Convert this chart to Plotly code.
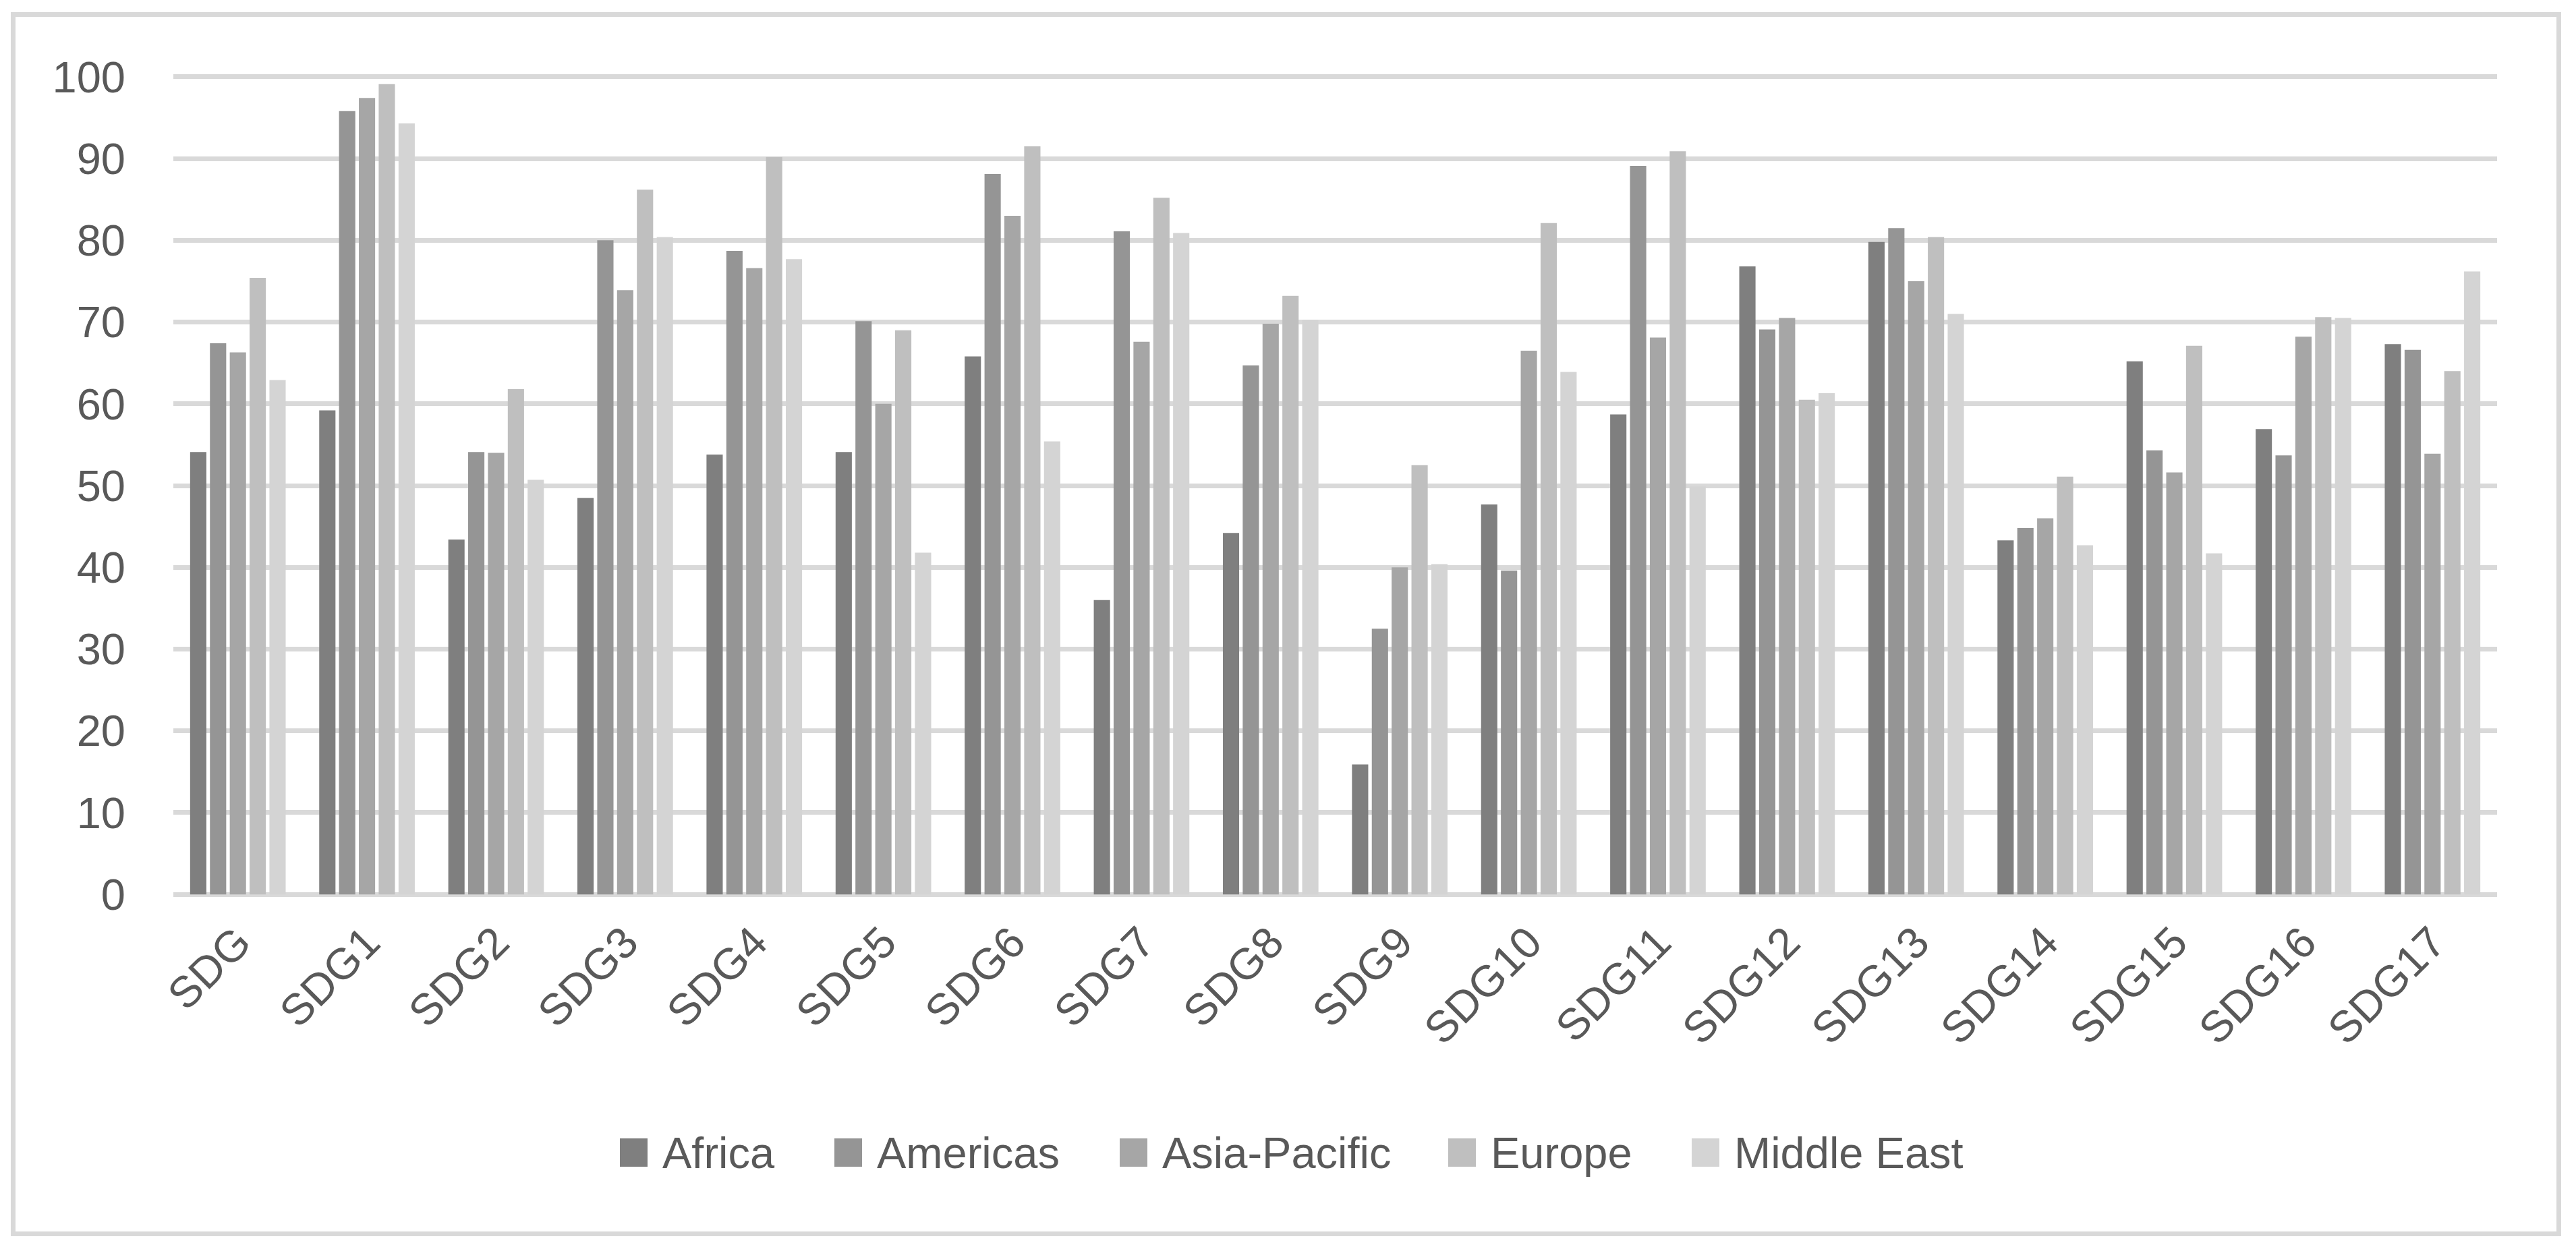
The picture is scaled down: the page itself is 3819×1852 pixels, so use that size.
import plotly.graph_objects as go

categories = ["SDG", "SDG1", "SDG2", "SDG3", "SDG4", "SDG5", "SDG6", "SDG7", "SDG8",
              "SDG9", "SDG10", "SDG11", "SDG12", "SDG13", "SDG14", "SDG15", "SDG16", "SDG17"]

africa = [54.1, 59.2, 43.4, 48.5, 53.8, 54.1, 65.8, 36.0, 44.2, 15.9, 47.7, 58.7, 76.8, 79.8, 43.3, 65.2, 56.9, 67.3]
americas = [67.4, 95.8, 54.1, 80.0, 78.7, 70.1, 88.1, 81.1, 64.7, 32.5, 39.6, 89.1, 69.1, 81.5, 44.8, 54.3, 53.7, 66.6]
asia_pacific = [66.3, 97.4, 54.0, 73.9, 76.6, 60.0, 83.0, 67.6, 69.8, 40.0, 66.5, 68.1, 70.5, 75.0, 46.0, 51.6, 68.2, 53.9]
europe = [75.4, 99.1, 61.8, 86.2, 90.2, 69.0, 91.5, 85.2, 73.2, 52.5, 82.1, 90.9, 60.5, 80.4, 51.1, 67.1, 70.6, 64.0]
middle_east = [62.9, 94.3, 50.7, 80.4, 77.7, 41.8, 55.4, 80.9, 70.3, 40.4, 63.9, 49.9, 61.3, 71.0, 42.7, 41.7, 70.5, 76.2]

series_names = ["Africa", "Americas", "Asia-Pacific", "Europe", "Middle East"]
series_values = [africa, americas, asia_pacific, europe, middle_east]
series_colors = ["#7f7f7f", "#959595", "#a6a6a6", "#bfbfbf", "#d4d4d4"]

y_tickvals = [0, 10, 20, 30, 40, 50, 60, 70, 80, 90, 100]

W, H = 3819, 1852
PL, PR = 257, 3702
Y0_PX, Y100_PX = 1326.0, 113.4
per_unit = (Y0_PX - Y100_PX) / 100.0
y_lo, y_hi = -0.4, 100.4
plot_bottom = Y0_PX - y_lo * per_unit
plot_top = Y100_PX - (y_hi - 100) * per_unit

FONT = "Liberation Sans"
TXT = "#595959"
GRID = "#d9d9d9"

fig = go.Figure()
for name, vals, col in zip(series_names, series_values, series_colors):
    fig.add_trace(go.Bar(name=name, x=categories, y=vals, marker=dict(color=col, line=dict(width=0)),
                         showlegend=False))

def px_x(p):
    return (p - PL) / (PR - PL)

def px_y(p):
    return (plot_bottom - p) / (plot_bottom - plot_top)

shapes = []
annotations = []
# outer border
shapes.append(dict(type="rect", xref="paper", yref="paper",
                   x0=px_x(19.5), x1=px_x(3793.5), y0=px_y(1829.5), y1=px_y(21),
                   line=dict(color=GRID, width=7), fillcolor="rgba(0,0,0,0)", layer="below"))

# custom legend
leg_swatch_left = [919, 1237, 1660, 2147, 2508]
sw = 41
leg_cy = 1709
for name, col, xl in zip(series_names, series_colors, leg_swatch_left):
    shapes.append(dict(type="rect", xref="paper", yref="paper",
                       x0=px_x(xl), x1=px_x(xl + sw), y0=px_y(leg_cy + 21), y1=px_y(leg_cy - 21),
                       line=dict(width=0), fillcolor=col))
    annotations.append(dict(xref="paper", yref="paper", x=px_x(xl + sw + 20), y=px_y(leg_cy),
                            xanchor="left", yanchor="middle", showarrow=False, text=name,
                            font=dict(family=FONT, size=65, color=TXT)))

fig.update_layout(
    width=W, height=H,
    paper_bgcolor="white", plot_bgcolor="white",
    margin=dict(l=PL, r=W - PR, t=plot_top, b=H - plot_bottom, pad=0, autoexpand=False),
    barmode="group", bargap=0.232, bargroupgap=0.18,
    showlegend=False,
    font=dict(family=FONT, size=65, color=TXT),
    shapes=shapes, annotations=annotations,
)
fig.update_xaxes(type="category", categoryorder="array", categoryarray=categories,
                 range=[-0.5, len(categories) - 0.5], showgrid=False, zeroline=False,
                 showline=False, ticks="", tickangle=-45,
                 tickfont=dict(family=FONT, size=65, color=TXT), ticklabelstandoff=14)
fig.update_yaxes(range=[y_lo, y_hi], tickmode="array", tickvals=y_tickvals,
                 ticktext=[str(v) for v in y_tickvals],
                 showgrid=True, gridcolor=GRID, gridwidth=7,
                 zeroline=True, zerolinecolor=GRID, zerolinewidth=7,
                 showline=False, ticks="",
                 tickfont=dict(family=FONT, size=65, color=TXT), ticklabelstandoff=70)

fig.write_html("out.html", config={"displayModeBar": False, "staticPlot": True},
               post_script="document.body.style.margin='0px';document.body.style.overflow='hidden';")
